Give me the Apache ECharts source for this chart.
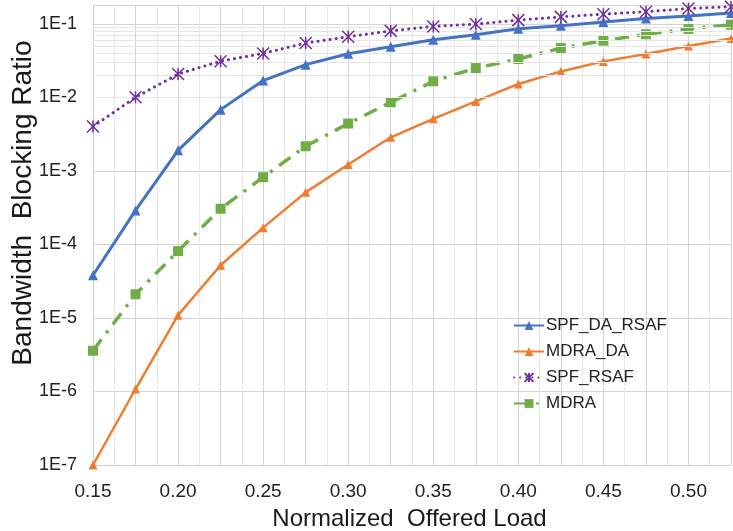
<!DOCTYPE html>
<html>
<head>
<meta charset="utf-8">
<script src="https://cdn.jsdelivr.net/npm/echarts@6/dist/echarts.min.js"></script>
<style>html,body{margin:0;padding:0;background:#fff}#c{width:733px;height:531px}</style>
</head>
<body>
<div id="c"></div>
<script>
const loads = [0.15,0.175,0.20,0.225,0.25,0.275,0.30,0.325,0.35,0.375,0.40,0.425,0.45,0.475,0.50,0.525];
const spfDaRsaf = [3.8e-5,2.9e-4,1.9e-3,6.8e-3,1.69e-2,2.78e-2,3.92e-2,4.88e-2,6.07e-2,7.1e-2,8.55e-2,9.4e-2,0.106,0.118,0.128,0.140];
const mdraDa    = [1.0e-7,1.08e-6,1.09e-5,5.2e-5,1.69e-4,5.1e-4,1.22e-3,2.86e-3,5.1e-3,8.8e-3,1.52e-2,2.25e-2,3.08e-2,3.88e-2,5.0e-2,6.3e-2];
const spfRsaf   = [4.0e-3,1.0e-2,2.07e-2,3.1e-2,3.95e-2,5.47e-2,6.67e-2,8.0e-2,9.2e-2,9.9e-2,0.112,0.124,0.135,0.146,0.161,0.170];
const mdra      = [3.58e-6,2.1e-5,8.1e-5,3.05e-4,8.2e-4,2.16e-3,4.4e-3,8.55e-3,1.65e-2,2.5e-2,3.32e-2,4.67e-2,5.89e-2,7.2e-2,8.5e-2,9.7e-2];
const seriesNames = ['SPF_DA_RSAF','MDRA_DA','SPF_RSAF','MDRA'];
const yMin = 1e-7, yMax = 0.18;

// minor log gridline positions (2..9 per decade)
const minorY = [];
for (let e = -7; e <= -1; e++) {
  for (let k = 2; k <= 9; k++) {
    const v = k * Math.pow(10, e);
    if (v < yMax) minorY.push(v);
  }
}
const pair = arr => loads.map((x, i) => [x, arr[i]]);

const chart = echarts.init(document.getElementById('c'), null, {renderer: 'canvas'});
const font = 'Liberation Sans, Arial, sans-serif';
chart.setOption({
  animation: false,
  grid: {left: 93, right: 2, top: 5, bottom: 66, containLabel: false, outerBoundsMode: 'none'},
  xAxis: {
    type: 'value', min: 0.15, max: 0.525, interval: 0.025,
    name: 'Normalized  Offered Load', nameLocation: 'middle', nameGap: 42, nameMoveOverlap: false,
    nameTextStyle: {fontFamily: font, fontSize: 24, color: '#1a1a1a', padding: [0, 5, 0, 0]},
    axisLine: {show: true, lineStyle: {color: '#d0d0d0'}},
    axisTick: {show: false},
    axisLabel: {
      fontFamily: font, fontSize: 19, color: '#222', margin: 17,
      showMaxLabel: false,
      formatter: v => (Math.round(v * 1000) % 50 === 0) ? v.toFixed(2) : ''
    },
    splitLine: {show: true, lineStyle: {color: '#d4d4d4', width: 1}},
    minorTick: {show: false, splitNumber: 2},
    minorSplitLine: {show: true, lineStyle: {color: '#e8e8e8', width: 1}}
  },
  yAxis: {
    type: 'log', logBase: 10, min: yMin, max: yMax, interval: 1,
    name: 'Bandwidth  Blocking Ratio', nameLocation: 'middle', nameGap: 56, nameMoveOverlap: false,
    nameTextStyle: {fontFamily: font, fontSize: 28, color: '#1a1a1a', padding: [0, 0, 0, 64]},
    axisLine: {show: true, lineStyle: {color: '#d0d0d0'}},
    axisTick: {show: false},
    axisLabel: {
      fontFamily: font, fontSize: 18, color: '#222', margin: 16,
      showMaxLabel: false,
      formatter: v => {
        const e = Math.log10(v);
        return Math.abs(e - Math.round(e)) < 1e-6 ? '1E' + Math.round(e) : '';
      }
    },
    splitLine: {show: true, lineStyle: {color: '#d4d4d4', width: 1}}
  },
  legend: {
    orient: 'vertical', left: 508, top: 312, itemWidth: 30, itemHeight: 11, itemGap: 9,
    data: seriesNames,
    textStyle: {fontFamily: font, fontSize: 17, color: '#222', padding: [0,0,0,-3]}
  },
  series: [
    {
      type: 'line', name: '_minor', data: [], z: 1, silent: true,
      markLine: {
        silent: true, symbol: ['none', 'none'], label: {show: false},
        lineStyle: {color: '#e6e6e6', width: 1, type: 'solid'},
        data: minorY.map(v => ({yAxis: v}))
      }
    },
    {
      type: 'line', name: seriesNames[1], data: pair(mdraDa), z: 3,
      symbol: 'triangle', symbolSize: 9,
      lineStyle: {color: '#ED7D31', width: 2.5},
      itemStyle: {color: '#ED7D31'}
    },
    {
      type: 'line', name: seriesNames[3], data: pair(mdra), z: 4,
      symbol: 'rect', symbolSize: 10,
      lineStyle: {color: '#70AD47', width: 3.5, type: [14, 8, 3, 8], cap: 'butt'},
      itemStyle: {color: '#70AD47'}
    },
    {
      type: 'line', name: seriesNames[0], data: pair(spfDaRsaf), z: 5,
      symbol: 'triangle', symbolSize: 10,
      lineStyle: {color: '#4472C4', width: 3},
      itemStyle: {color: '#4472C4'}
    },
    {
      type: 'line', name: seriesNames[2], data: pair(spfRsaf), z: 6,
      symbol: 'path://M0,0L10,10M10,0L0,10M5,0L5,10', symbolSize: 12,
      lineStyle: {color: '#7030A0', width: 3, type: [0.1, 6], cap: 'round'},
      itemStyle: {color: '#7030A0', borderColor: '#7030A0', borderWidth: 1.5}
    }
  ]
});
</script>
</body>
</html>
